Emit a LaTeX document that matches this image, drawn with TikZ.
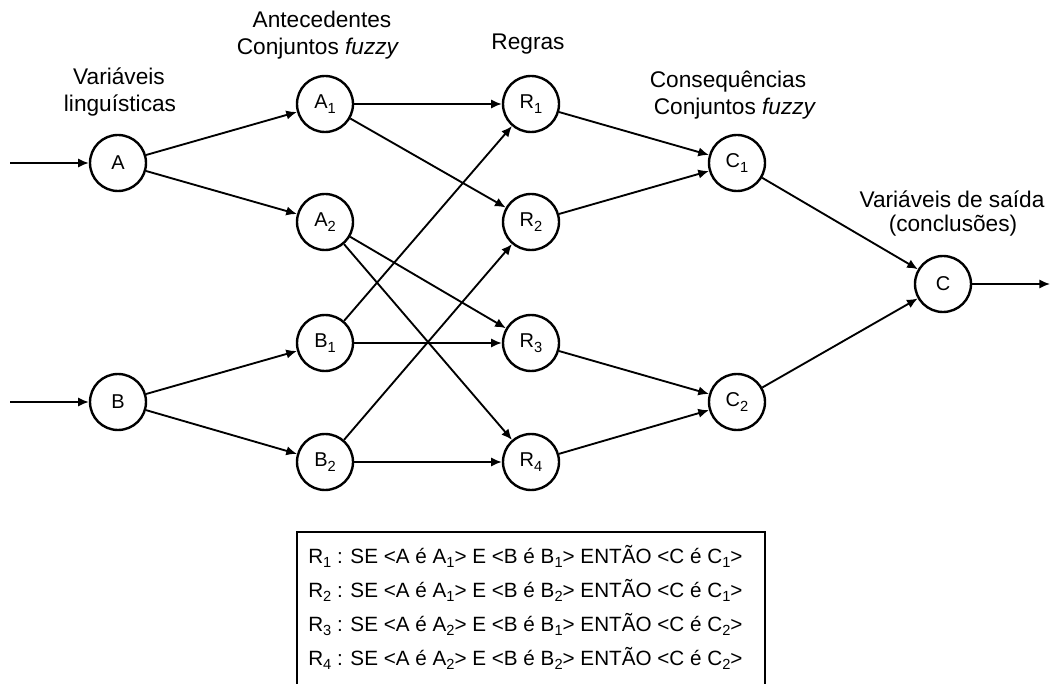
\documentclass[tikz,border=0pt]{standalone}
\usepackage{fontspec}
\setmainfont{Liberation Sans}
\usepackage{tikz}
\usetikzlibrary{arrows}
\usetikzlibrary{arrows.meta}
\usetikzlibrary{positioning}
\newcommand*{\nodefont}{\fontsize{15}{18}\selectfont}
\newcommand*{\rulefont}{\fontsize{15.5}{18}\selectfont}
\newcommand*{\labelfont}{\fontsize{17}{20}\selectfont}
\newcommand*{\idx}[1]{\raisebox{-0.45ex}{\fontsize{11}{11}\selectfont #1}}
\tikzstyle{base}=[x=0.75pt, y=-0.75pt]
\tikzstyle{var}=[draw, circle, inner sep=0pt, line width=1.8pt, minimum size=42pt, font=\nodefont]
\tikzstyle{lbl}=[anchor=base, inner sep=0pt, font=\labelfont]
\tikzstyle{arr}=[-{Latex[length=8pt, width=7pt]}, line width=1.4pt]

\begin{document}
\begin{tikzpicture}[base]
    \path [use as bounding box] (0,0) rectangle (1058,684);
    % inputs
    \node [var] (A) at (118,163) {A};
    \node [var] (B) at (118,402) {B};
    % antecedents
    \node [var] (A1) at (325,104) {A\idx{1}};
    \node [var] (A2) at (325,222) {A\idx{2}};
    \node [var] (B1) at (325,343) {B\idx{1}};
    \node [var] (B2) at (325,462) {B\idx{2}};
    % rules
    \node [var] (R1) at (531,104) {R\idx{1}};
    \node [var] (R2) at (531,222) {R\idx{2}};
    \node [var] (R3) at (531,343) {R\idx{3}};
    \node [var] (R4) at (531,462) {R\idx{4}};
    % consequents
    \node [var] (C1) at (737,163) {C\idx{1}};
    \node [var] (C2) at (737,402) {C\idx{2}};
    \node [var] (C) at (943,284) {C};
    \coordinate (inA) at (10,163);
    \coordinate (inB) at (10,402);
    \coordinate (outC) at (1050,284);
    % column titles
    \node [lbl] (varLing) at (119,85) {Variáveis};
    \node [lbl] (varLing2) at (120,112) {linguísticas};
    \node [lbl] (antec) at (322,28) {Antecedentes};
    \node [lbl] (antec2) at (318,55) {Conjuntos \textit{fuzzy}};
    \node [lbl] (regras) at (528,50) {Regras};
    \node [lbl] (conseq) at (728,88) {Consequências};
    \node [lbl] (conseq2) at (735,115) {Conjuntos \textit{fuzzy}};
    \node [lbl] (saida) at (952,208) {Variáveis de saída};
    \node [lbl] (saida2) at (953,232) {(conclusões)};
    % connectors
    \draw [arr] (inA) -- (A);
    \draw [arr] (inB) -- (B);
    \draw [arr] (C) -- (outC);
    \foreach \s/\t in {A/A1, A/A2, B/B1, B/B2, A1/R1, A1/R2, A2/R3, A2/R4,
                       B1/R1, B1/R3, B2/R2, B2/R4, R1/C1, R2/C1, R3/C2, R4/C2,
                       C1/C, C2/C}
        \draw [arr] (\s) -- (\t);
    % rule table
    \draw [line width=1.4pt] (297,684) -- (297,532) -- (765,532) -- (765,684);
    \foreach \r/\a/\b/\c in {1/1/1/1, 2/1/2/1, 3/2/1/2, 4/2/2/2}
        \node [anchor=base west, inner sep=0pt, font=\rulefont] (rule\r) at (308,529+34*\r)
            {R\idx{\r} : SE <A é A\idx{\a}> E <B é B\idx{\b}> ENTÃO <C é C\idx{\c}>};
\end{tikzpicture}
\end{document}
